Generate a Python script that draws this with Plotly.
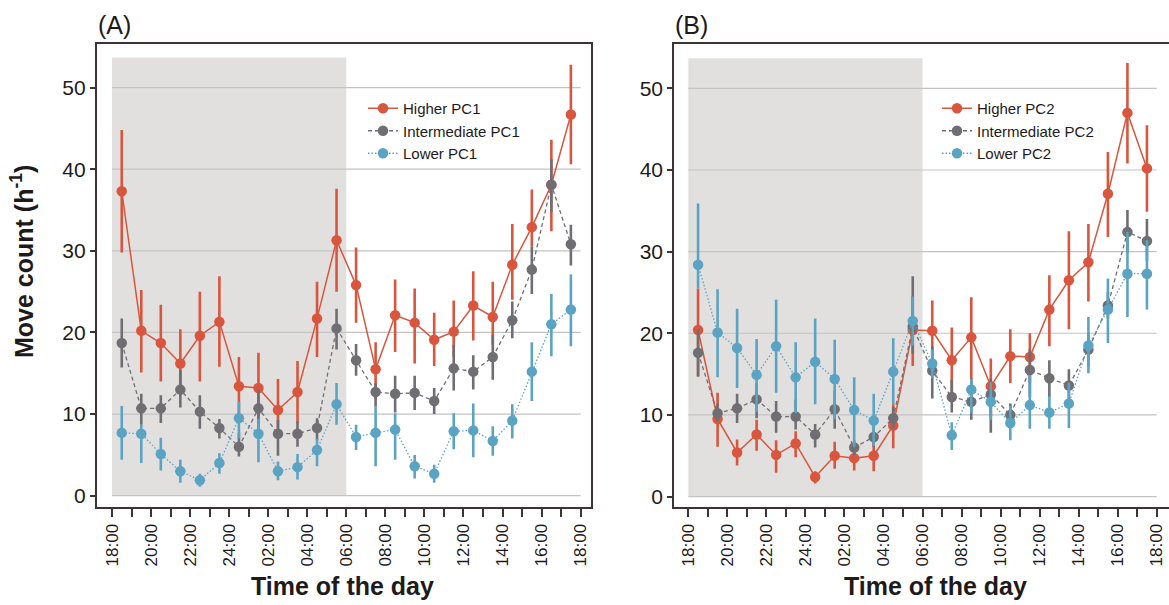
import plotly.graph_objects as go

# ---------------- data ----------------
hours = [h + 0.5 for h in range(24)]  # hours after 18:00 (mid-hour points)
tick_pos = list(range(0, 25, 2))
tick_labels = ["18:00", "20:00", "22:00", "24:00", "02:00", "04:00", "06:00",
               "08:00", "10:00", "12:00", "14:00", "16:00", "18:00"]
y_ticks = [0, 10, 20, 30, 40, 50]

# Panel A (PC1)
hiA = [37.3, 20.2, 18.7, 16.2, 19.6, 21.3, 13.4, 13.2, 10.5, 12.7, 21.7, 31.3,
       25.8, 15.5, 22.1, 21.2, 19.1, 20.1, 23.3, 21.9, 28.3, 32.9, 38.1, 46.7]
hiA_up = [44.8, 25.2, 23.4, 20.4, 25.0, 26.9, 17.0, 17.5, 14.3, 16.5, 26.2, 37.6,
          30.4, 18.8, 26.5, 25.4, 22.4, 23.9, 27.5, 26.2, 33.3, 37.5, 43.6, 52.8]
hiA_lo = [29.8, 15.1, 14.0, 12.3, 14.0, 15.8, 9.7, 8.7, 7.2, 8.9, 17.0, 25.0,
          21.2, 11.8, 17.6, 16.2, 15.9, 17.0, 19.0, 18.5, 24.0, 30.5, 32.4, 40.6]

midA = [18.7, 10.7, 10.7, 13.0, 10.3, 8.3, 6.0, 10.7, 7.6, 7.6, 8.3, 20.5,
        16.6, 12.7, 12.5, 12.6, 11.6, 15.6, 15.2, 17.0, 21.5, 27.7, 38.1, 30.8]
midA_up = [21.7, 12.5, 12.3, 15.4, 12.3, 9.4, 7.7, 13.0, 9.3, 9.1, 9.5, 22.9,
           18.6, 13.8, 14.7, 14.7, 13.2, 18.5, 17.2, 19.7, 23.8, 30.5, 41.2, 33.2]
midA_lo = [15.7, 8.7, 8.9, 10.8, 8.2, 7.0, 4.8, 8.0, 4.9, 6.0, 6.8, 17.9,
           14.7, 10.9, 10.2, 10.5, 10.0, 12.9, 13.0, 14.2, 19.3, 24.7, 34.8, 28.2]

loA = [7.7, 7.6, 5.1, 3.0, 1.9, 4.0, 9.5, 7.6, 3.0, 3.5, 5.6, 11.2,
       7.2, 7.7, 8.1, 3.6, 2.7, 7.9, 8.0, 6.7, 9.2, 15.2, 21.0, 22.8]
loA_up = [11.0, 8.7, 7.1, 4.4, 2.7, 5.2, 11.5, 9.4, 4.2, 5.1, 7.0, 13.8,
          8.7, 10.9, 10.1, 5.0, 3.8, 10.1, 11.3, 8.5, 11.2, 18.8, 24.7, 27.1]
loA_lo = [4.4, 4.0, 3.1, 1.6, 1.1, 2.7, 7.0, 4.1, 1.9, 2.0, 3.6, 8.7,
          5.6, 3.6, 4.4, 2.1, 1.6, 5.7, 4.7, 4.9, 7.0, 11.6, 17.1, 18.3]

# Panel B (PC2)
hiB = [20.4, 9.5, 5.4, 7.6, 5.1, 6.5, 2.4, 5.0, 4.7, 5.0, 8.7, 20.4,
       20.3, 16.7, 19.5, 13.5, 17.2, 17.1, 22.9, 26.5, 28.7, 37.1, 47.0, 40.2]
hiB_up = [25.5, 12.7, 7.0, 9.4, 6.9, 8.0, 3.1, 6.7, 6.1, 6.9, 11.3, 24.6,
          24.0, 20.7, 24.4, 16.9, 20.5, 20.0, 27.1, 32.5, 33.4, 42.2, 53.1, 45.5]
hiB_lo = [14.7, 6.1, 3.8, 5.6, 2.9, 4.8, 1.6, 3.4, 3.2, 3.1, 5.9, 16.0,
          16.5, 12.2, 14.4, 9.8, 13.9, 13.9, 18.4, 20.5, 23.9, 31.8, 40.8, 34.9]

midB = [17.6, 10.2, 10.8, 11.9, 9.8, 9.8, 7.6, 10.7, 6.0, 7.3, 9.6, 20.8,
        15.4, 12.2, 11.6, 12.5, 10.0, 15.5, 14.5, 13.6, 18.0, 23.4, 32.4, 31.3]
midB_up = [20.5, 11.4, 12.6, 13.9, 11.7, 11.9, 8.9, 13.0, 6.9, 8.7, 11.0, 27.0,
           18.4, 14.3, 14.5, 14.5, 11.4, 18.0, 16.7, 15.6, 20.1, 25.1, 35.1, 34.0]
midB_lo = [14.7, 9.2, 9.0, 9.6, 7.8, 8.2, 6.0, 8.3, 5.1, 6.1, 8.3, 17.5,
           12.0, 10.3, 9.4, 7.8, 8.4, 12.2, 12.2, 11.3, 15.9, 21.8, 29.8, 28.9]

loB = [28.4, 20.1, 18.2, 14.9, 18.4, 14.6, 16.5, 14.4, 10.6, 9.3, 15.3, 21.5,
       16.3, 7.5, 13.1, 11.6, 9.0, 11.2, 10.3, 11.4, 18.5, 22.9, 27.3, 27.3]
loB_up = [35.9, 25.4, 23.0, 19.3, 24.1, 18.9, 21.8, 19.2, 14.6, 12.6, 19.4, 24.5,
          18.0, 9.1, 14.4, 14.0, 11.1, 14.9, 12.3, 13.9, 22.0, 26.7, 32.4, 31.4]
loB_lo = [25.5, 14.6, 13.3, 10.4, 12.7, 10.2, 11.3, 9.5, 6.1, 6.2, 11.3, 18.5,
          14.5, 5.7, 10.2, 9.4, 6.9, 8.3, 8.3, 8.4, 15.1, 18.8, 22.0, 22.9]

# ---------------- styles ----------------
RED = "#d9553d"
GRAY = "#6f6f73"
BLUE = "#5ba3c3"
SHADE = "#e1e0df"
GRID = "#c3c3c3"
AXC = "#3a3434"
TXT = "#1e1a1a"
FONT = "Liberation Sans, Arial, Helvetica, sans-serif"

W, H = 1169, 605


def px_x(p):
    return p / W


def px_y(p):
    return 1 - p / H


fig = go.Figure()


def add_series(x, y, up, lo, color, dash, width, name, xa, ya, legend, rank):
    fig.add_trace(go.Scatter(
        x=x, y=y, mode="lines+markers", name=name,
        line=dict(color=color, width=width, dash=dash),
        marker=dict(color=color, size=10.5),
        error_y=dict(type="data", symmetric=False,
                     array=[u - v for u, v in zip(up, y)],
                     arrayminus=[v - l for v, l in zip(y, lo)],
                     color=color, thickness=2.6, width=0),
        xaxis=xa, yaxis=ya, legend=legend, legendrank=rank,
    ))


add_series(hours, hiA, hiA_up, hiA_lo, RED, "solid", 1.5, "Higher PC1", "x", "y", "legend", 1)
add_series(hours, midA, midA_up, midA_lo, GRAY, "4px,3px", 1.3, "Intermediate PC1", "x", "y", "legend", 2)
add_series(hours, loA, loA_up, loA_lo, BLUE, "1.5px,2px", 1.3, "Lower PC1", "x", "y", "legend", 3)

add_series(hours, hiB, hiB_up, hiB_lo, RED, "solid", 1.5, "Higher PC2", "x2", "y2", "legend2", 1)
add_series(hours, midB, midB_up, midB_lo, GRAY, "4px,3px", 1.3, "Intermediate PC2", "x2", "y2", "legend2", 2)
add_series(hours, loB, loB_up, loB_lo, BLUE, "1.5px,2px", 1.3, "Lower PC2", "x2", "y2", "legend2", 3)

# shading (night) and partial grid lines
shapes = []
for xr, yr in (("x", "y"), ("x2", "y2")):
    shapes.append(dict(type="rect", xref=xr, yref=yr, x0=0, x1=12, y0=0, y1=53.7,
                       fillcolor=SHADE, line=dict(width=0), layer="below"))
    for v in y_ticks:
        shapes.append(dict(type="line", xref=xr, yref=yr, x0=0, x1=24, y0=v, y1=v,
                           line=dict(color=GRID, width=1.2), layer="below"))

ydom = [px_y(507.3), px_y(44.4)]

xaxis_common = dict(
    tickmode="array", tickvals=tick_pos, ticktext=tick_labels, tickangle=-90,
    ticks="outside", ticklen=8, tickwidth=1.5, tickcolor=AXC,
    minor=dict(dtick=1, tick0=0, ticks="outside", ticklen=8, tickwidth=1.5, tickcolor=AXC),
    showgrid=False, zeroline=False, showline=True, linecolor=AXC, linewidth=1.6,
    mirror=True, tickfont=dict(size=17, color=TXT, family=FONT),
)
yaxis_common = dict(
    tickmode="array", tickvals=y_ticks, ticks="outside", ticklen=5, tickwidth=1.5,
    tickcolor=AXC, showgrid=False, zeroline=False, showline=True, linecolor=AXC,
    linewidth=1.6, tickfont=dict(size=21, color=TXT, family=FONT),
)

fig.update_layout(
    width=W, height=H,
    margin=dict(l=0, r=0, t=0, b=0),
    paper_bgcolor="white", plot_bgcolor="white",
    font=dict(family=FONT, color=TXT),
    shapes=shapes,
    xaxis=dict(domain=[px_x(96.7), px_x(591)], range=[-0.783, 24.53], anchor="y", **xaxis_common),
    yaxis=dict(domain=ydom, range=[-1.42, 55.29], anchor="x", mirror=True, **yaxis_common),
    xaxis2=dict(domain=[px_x(674), 1.0], range=[-0.733, 24.63], anchor="y2", **xaxis_common),
    yaxis2=dict(domain=ydom, range=[-1.32, 55.39], anchor="x2", mirror=False, **yaxis_common),
    legend=dict(x=px_x(363), y=px_y(92), xanchor="left", yanchor="top",
                bgcolor="rgba(0,0,0,0)", font=dict(size=15, color=TXT, family=FONT),
                tracegroupgap=0, itemwidth=30),
    legend2=dict(x=px_x(937), y=px_y(92), xanchor="left", yanchor="top",
                 bgcolor="rgba(0,0,0,0)", font=dict(size=15, color=TXT, family=FONT),
                 tracegroupgap=0, itemwidth=30),
    annotations=[
        dict(text="<b>Move count (h<sup>-1</sup>)</b>", xref="paper", yref="paper",
             x=px_x(22), y=px_y(262), textangle=-90, showarrow=False,
             font=dict(size=25, color=TXT, family=FONT), xanchor="center", yanchor="middle"),
        dict(text="<b>Time of the day</b>", xref="paper", yref="paper",
             x=px_x(342.5), y=px_y(586), showarrow=False,
             font=dict(size=25, color=TXT, family=FONT), xanchor="center", yanchor="middle"),
        dict(text="<b>Time of the day</b>", xref="paper", yref="paper",
             x=px_x(935), y=px_y(586), showarrow=False,
             font=dict(size=25, color=TXT, family=FONT), xanchor="center", yanchor="middle"),
        dict(text="(A)", xref="paper", yref="paper", x=px_x(96), y=px_y(25),
             showarrow=False, font=dict(size=25, color=TXT, family=FONT),
             xanchor="left", yanchor="middle"),
        dict(text="(B)", xref="paper", yref="paper", x=px_x(673), y=px_y(25),
             showarrow=False, font=dict(size=25, color=TXT, family=FONT),
             xanchor="left", yanchor="middle"),
    ],
)

fig.write_html("out.html")
